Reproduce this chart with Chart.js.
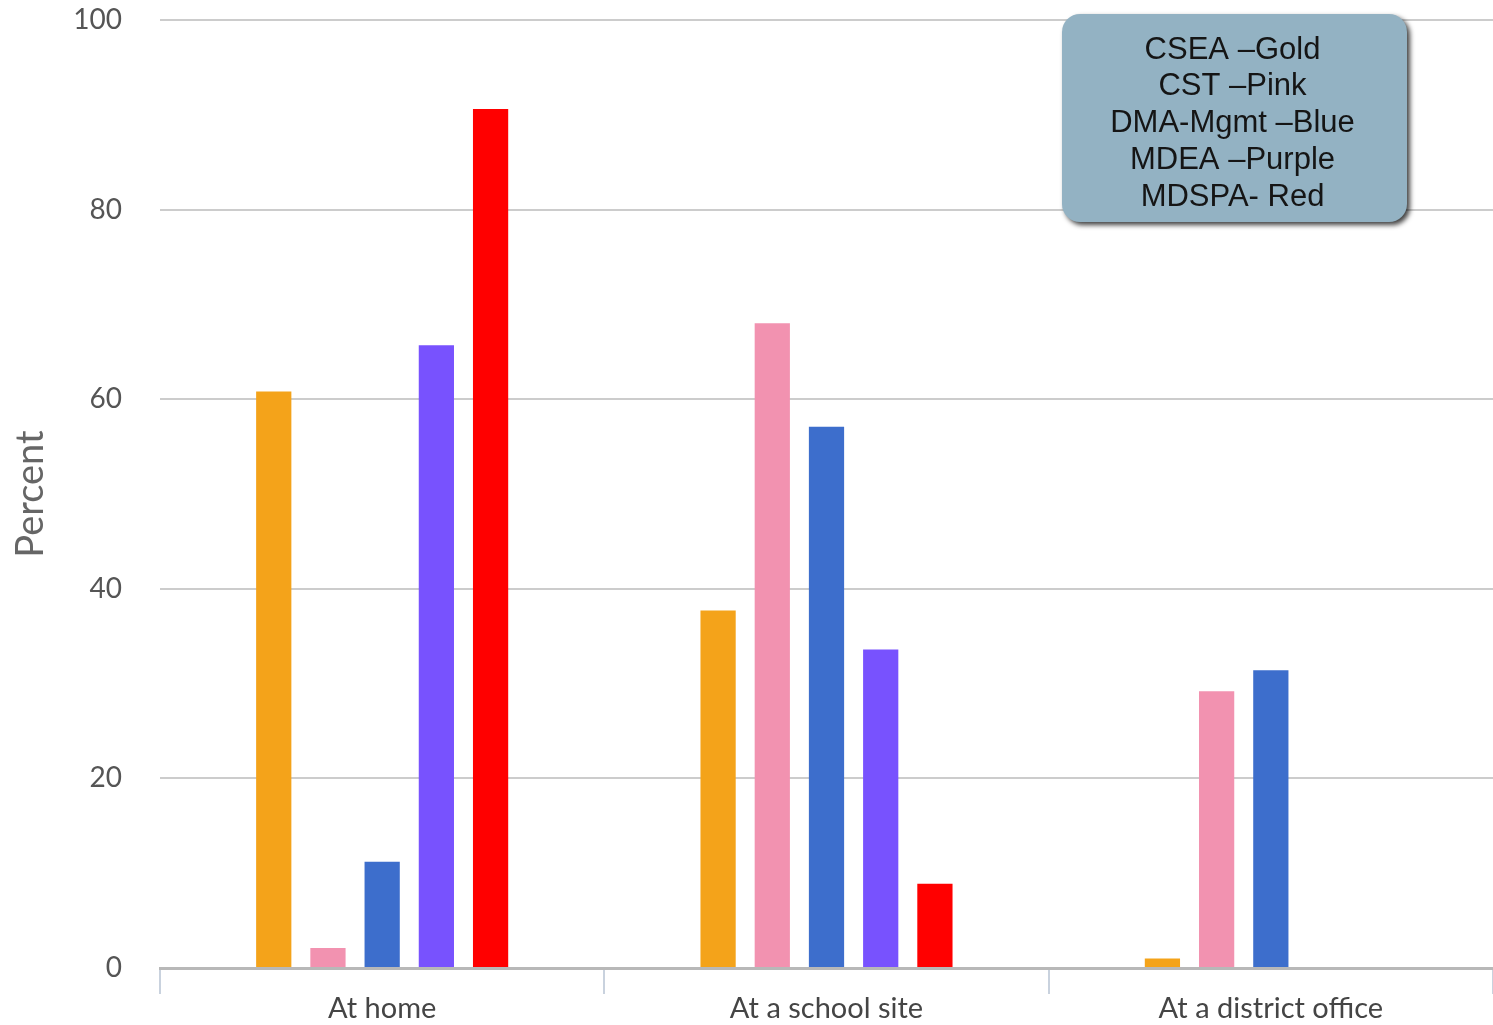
<!DOCTYPE html>
<html>
<head>
<meta charset="utf-8">
<script src="https://cdn.jsdelivr.net/npm/chart.js@4"></script>
<style>
  html, body { margin: 0; padding: 0; background: #fff; }
  #wrap { width: 1493px; height: 1025px; }
</style>
</head>
<body>
<div id="wrap"><canvas id="placeChart"></canvas></div>
<script>
var categories = ['At home', 'At a school site', 'At a district office'];
var csea = [60.8, 37.7, 1];
var cst = [2.1, 68, 29.2];
var dmaMgmt = [11.2, 57.1, 31.4];
var mdea = [65.7, 33.6, 0];
var mdspa = [90.6, 8.9, 0];
var yTicks = [0, 20, 40, 60, 80, 100];
var noteLines = ['CSEA \u2013Gold', 'CST \u2013Pink', 'DMA-Mgmt \u2013Blue', 'MDEA \u2013Purple', 'MDSPA- Red'];

function series(label, data, color) {
  return {
    label: label,
    data: data,
    backgroundColor: color,
    borderWidth: 0,
    categoryPercentage: 0.61,
    barPercentage: 0.65
  };
}

// rounded note box in the upper right
var noteBox = {
  id: 'noteBox',
  afterDraw: function (chart) {
    var ctx = chart.ctx;
    var x = 1062, y = 14, w = 345, h = 208, r = 18;
    ctx.save();
    ctx.shadowColor = 'rgba(0,0,0,0.75)';
    ctx.shadowBlur = 5;
    ctx.shadowOffsetX = 3;
    ctx.shadowOffsetY = 3;
    ctx.fillStyle = '#93b2c3';
    ctx.beginPath();
    ctx.roundRect(x, y, w, h, r);
    ctx.fill();
    ctx.restore();
    ctx.save();
    ctx.fillStyle = '#151515';
    ctx.font = '31px "Liberation Sans", Arial, sans-serif';
    ctx.textAlign = 'center';
    ctx.textBaseline = 'middle';
    noteLines.forEach(function (line, i) {
      ctx.fillText(line, x + w / 2 - 2, 50 + i * 36.8);
    });
    ctx.restore();
  }
};

var config = {
  type: 'bar',
  data: {
    labels: categories,
    datasets: [
      series('CSEA', csea, '#f4a31a'),
      series('CST', cst, '#f292b0'),
      series('DMA-Mgmt', dmaMgmt, '#3d6ecc'),
      series('MDEA', mdea, '#7852fe'),
      series('MDSPA', mdspa, '#ff0000')
    ]
  },
  options: {
    responsive: true,
    maintainAspectRatio: false,
    animation: false,
    layout: { padding: { top: 20, right: 0, bottom: 0, left: 0 } },
    plugins: {
      legend: { display: false },
      tooltip: { enabled: false }
    },
    scales: {
      x: {
        grid: {
          offset: true,
          drawOnChartArea: false,
          color: '#c9d2de',
          lineWidth: 2,
          tickLength: 26
        },
        border: { color: '#b8b8b8', width: 3 },
        ticks: {
          color: '#454545',
          padding: -3,
          font: { family: 'Lato', size: 29 }
        },
        afterFit: function (axis) {
          axis.height = 57;
          axis.paddingLeft = 0;
          axis.paddingRight = 0;
        }
      },
      y: {
        min: 0,
        max: 100,
        afterBuildTicks: function (axis) {
          axis.ticks = yTicks.map(function (v) { return { value: v }; });
        },
        grid: {
          color: '#cccccc',
          lineWidth: 2,
          drawTicks: false
        },
        border: { display: false },
        ticks: {
          color: '#555555',
          padding: 38,
          font: { family: 'Lato', size: 28 }
        },
        title: {
          display: true,
          text: 'Percent',
          color: '#666666',
          padding: { top: 8, bottom: 0 },
          font: { family: 'Lato', size: 38 }
        },
        afterFit: function (axis) {
          axis.width = 160;
          axis.paddingTop = 0;
          axis.paddingBottom = 0;
        }
      }
    }
  },
  plugins: [noteBox]
};

var placeChart = new Chart(document.getElementById('placeChart'), config);
</script>
</body>
</html>
